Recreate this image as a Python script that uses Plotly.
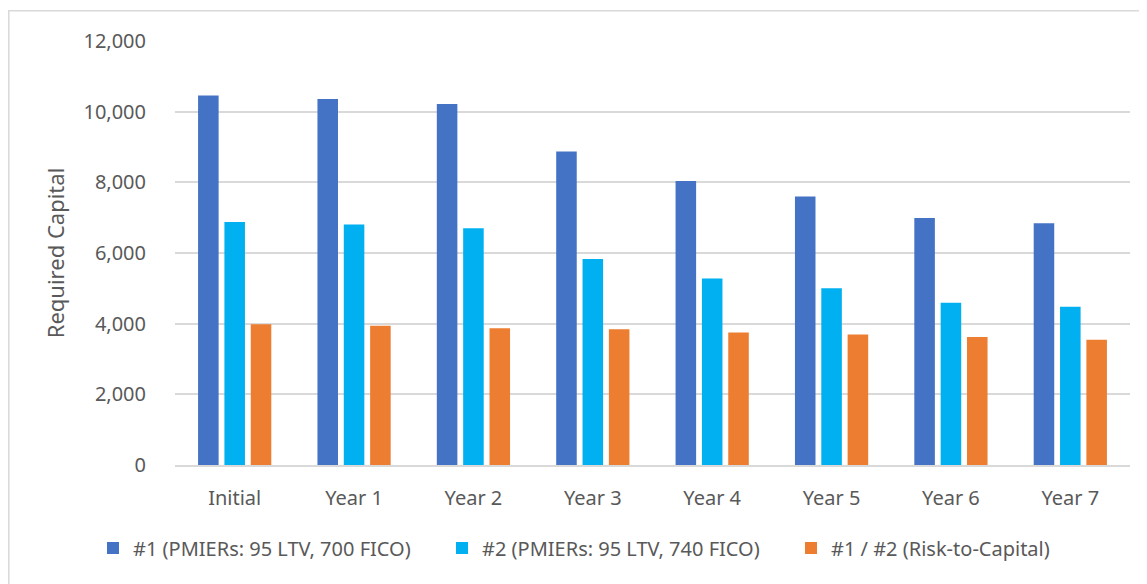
import plotly.graph_objects as go

categories = ["Initial", "Year 1", "Year 2", "Year 3", "Year 4", "Year 5", "Year 6", "Year 7"]
series1_name = "#1 (PMIERs: 95 LTV, 700 FICO)"
series2_name = "#2 (PMIERs: 95 LTV, 740 FICO)"
series3_name = "#1 / #2 (Risk-to-Capital)"
series1 = [10460, 10360, 10220, 8870, 8040, 7600, 6990, 6840]
series2 = [6880, 6810, 6700, 5830, 5280, 5000, 4590, 4480]
series3 = [3985, 3940, 3870, 3840, 3750, 3690, 3620, 3545]
y_ticks = [0, 2000, 4000, 6000, 8000, 10000, 12000]

colors = ["#4472C4", "#00B0F0", "#ED7D31"]
FONT = "Segoe UI, Noto Sans, Open Sans, sans-serif"
GRAY = "#595959"

fig = go.Figure()
for name, vals, c in zip([series1_name, series2_name, series3_name],
                         [series1, series2, series3], colors):
    fig.add_trace(go.Bar(x=categories, y=vals, name=name, marker_color=c,
                         marker_line_width=0))

# page has an 8px body offset; figure is sized to fill the rest
W, H = 1139, 576
l, r, t, b = 167, 17, 33, 119
pw, ph = W - l - r, H - t - b
fig.update_layout(
    width=W, height=H,
    margin=dict(l=l, r=r, t=t, b=b, pad=0),
    paper_bgcolor="white", plot_bgcolor="white",
    barmode="group", bargap=0.338, bargroupgap=0.22,
    font=dict(family=FONT, size=20, color=GRAY),
    legend=dict(orientation="h", x=(85 - l) / pw, xanchor="left",
                y=-(548 - 8 - (H - b)) / ph, yanchor="middle",
                font=dict(family=FONT, size=20, color=GRAY),
                itemwidth=30, traceorder="normal",
                entrywidth=304, entrywidthmode="pixels"),
    showlegend=True,
)
fig.update_yaxes(range=[0, 12000], tickvals=y_ticks, tickformat=",d",
                 showgrid=True, gridcolor="#D9D9D9", gridwidth=1.5,
                 zeroline=False, showline=False, ticks="",
                 ticklabelstandoff=28,
                 tickfont=dict(family=FONT, size=20, color=GRAY),
                 title=dict(text="Required Capital", standoff=12,
                            font=dict(family=FONT, size=22, color=GRAY)))
fig.update_xaxes(showline=True, linecolor="#D9D9D9", linewidth=1.5,
                 ticks="", showgrid=False, ticklabelstandoff=14,
                 tickfont=dict(family=FONT, size=20, color=GRAY))

# outer chart border
x0 = (0.8 - l) / pw
x1 = (1138 - l) / pw
y1 = 1 + (t - 2.7) / ph
y0 = -(b + 5) / ph
fig.add_shape(type="rect", xref="paper", yref="paper", x0=x0, x1=x1, y0=y0, y1=y1,
              line=dict(color="#D9D9D9", width=1.5), layer="below")

fig.write_html("out.html")
